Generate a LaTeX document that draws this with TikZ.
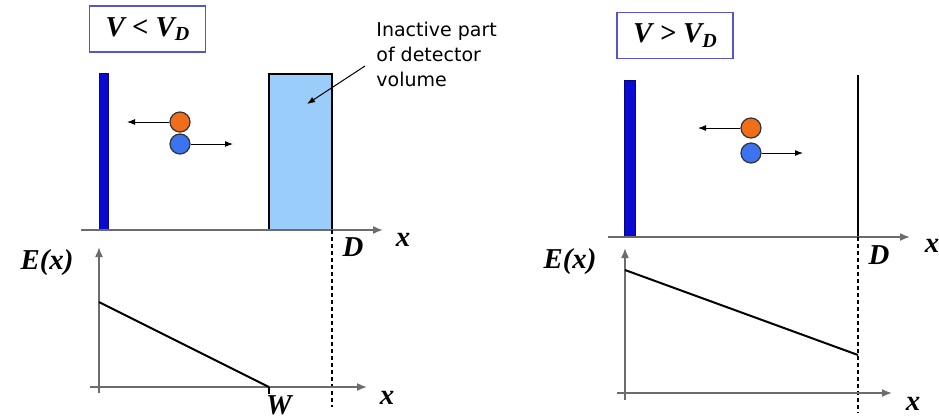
\documentclass[tikz,border=0pt]{standalone}
\usepackage{fontspec}
\setmainfont{Liberation Serif}
\newfontfamily\notefont{DejaVu Sans}
\usetikzlibrary{arrows.meta}

\definecolor{plate}{RGB}{10,10,210}
\definecolor{bulk}{RGB}{155,205,250}
\definecolor{hole}{RGB}{240,110,25}
\definecolor{elec}{RGB}{60,115,240}
\definecolor{frame}{RGB}{85,85,205}

\tikzset{
  axis/.style={gray!85!black, line width=0.8pt, -{Latex[length=5pt,width=4pt]}},
  lbl/.style={font=\bfseries\itshape\Large},
  xlbl/.style={font=\bfseries\itshape\Large},
  cond/.style={draw=frame, line width=0.8pt, minimum width=58pt, minimum height=23pt,
    inner sep=0pt, font=\bfseries\itshape\Large},
  carrier/.style={circle, draw=black!80, line width=0.6pt, minimum size=10pt, inner sep=0pt},
  drift/.style={line width=0.5pt, -{Latex[length=4pt,width=3pt]}},
  limit/.style={line width=0.6pt, dash pattern=on 2pt off 1.5pt},
  note/.style={font=\notefont\fontsize{9.5}{12.5}\selectfont, align=left, inner sep=0pt},
}

\begin{document}
\begin{tikzpicture}[x=0.5pt,y=-0.5pt]
  \useasboundingbox (0,0) rectangle (939,419);

  % left: partly depleted
  \node[cond] (condL) at (147.5,29) {V < V\raisebox{-0.35ex}{\normalsize D}};
  \draw[fill=plate, draw=plate!60!black] (99,73) rectangle (108,230);
  \node[draw, line width=0.8pt, fill=bulk, minimum width=31.5pt, minimum height=78pt,
    inner sep=0pt, outer sep=0pt] (dead) at (300.5,152) {};
  \node[note, anchor=north west] (noteL) at (376,22) {Inactive part\\of detector\\volume};
  \coordinate (noteend) at (365,66);
  \coordinate (deadpt) at (307,104);
  \draw[drift] (noteend) -- (deadpt);

  \node[carrier, fill=hole] (hL) at (180,122) {};
  \node[carrier, fill=elec] (eL) at (180,144) {};
  \coordinate (hLend) at (127,122);
  \coordinate (eLend) at (233,144);
  \draw[drift] (hL) -- (hLend);
  \draw[drift] (eL) -- (eLend);

  \coordinate (axL0) at (81,230);
  \coordinate (axL1) at (383,230);
  \draw[axis] (axL0) -- (axL1);
  \node[xlbl] (xL1) at (403,240) {x};
  \node[lbl] (DL) at (353,247) {D};
  \coordinate (dL0) at (332,230);
  \coordinate (dL1) at (332,407);
  \draw[limit] (dL0) -- (dL1);

  \node[lbl] (EL) at (47,263) {E(x)};
  \coordinate (oyL0) at (99,393);
  \coordinate (oyL1) at (99,247);
  \draw[axis] (oyL0) -- (oyL1);
  \coordinate (oxL0) at (90,387);
  \coordinate (oxL1) at (367,387);
  \draw[axis] (oxL0) -- (oxL1);
  \node[xlbl] (xL2) at (387,398) {x};
  \coordinate (fL0) at (99,302);
  \coordinate (fL1) at (269,387);
  \draw[line width=1pt] (fL0) -- (fL1);
  \coordinate (wtick) at (269,394);
  \draw[line width=0.8pt] (fL1) -- (wtick);
  \node[lbl] (WL) at (279,405) {W};

  % right: fully depleted
  \node[cond] (condR) at (675,35.5) {V > V\raisebox{-0.35ex}{\normalsize D}};
  \draw[fill=plate, draw=plate!60!black] (624,80) rectangle (635,237);
  \coordinate (backR0) at (858,75);
  \coordinate (backR1) at (858,237);
  \draw[line width=1.3pt] (backR0) -- (backR1);

  \node[carrier, fill=hole] (hR) at (751,128) {};
  \node[carrier, fill=elec] (eR) at (751,153) {};
  \coordinate (hRend) at (698,128);
  \coordinate (eRend) at (803,153);
  \draw[drift] (hR) -- (hRend);
  \draw[drift] (eR) -- (eRend);

  \coordinate (axR0) at (608,237);
  \coordinate (axR1) at (910,237);
  \draw[axis] (axR0) -- (axR1);
  \node[xlbl] (xR1) at (932,246) {x};
  \node[lbl] (DR) at (879,255) {D};
  \coordinate (dR1) at (858,413);
  \draw[limit] (backR1) -- (dR1);

  \node[lbl] (ER) at (570,262) {E(x)};
  \coordinate (oyR0) at (625,400);
  \coordinate (oyR1) at (625,248);
  \draw[axis] (oyR0) -- (oyR1);
  \coordinate (oxR0) at (617,393);
  \coordinate (oxR1) at (892,393);
  \draw[axis] (oxR0) -- (oxR1);
  \node[xlbl] (xR2) at (913,404) {x};
  \coordinate (fR0) at (625,270);
  \coordinate (fR1) at (858,355);
  \draw[line width=1pt] (fR0) -- (fR1);
\end{tikzpicture}
\end{document}
